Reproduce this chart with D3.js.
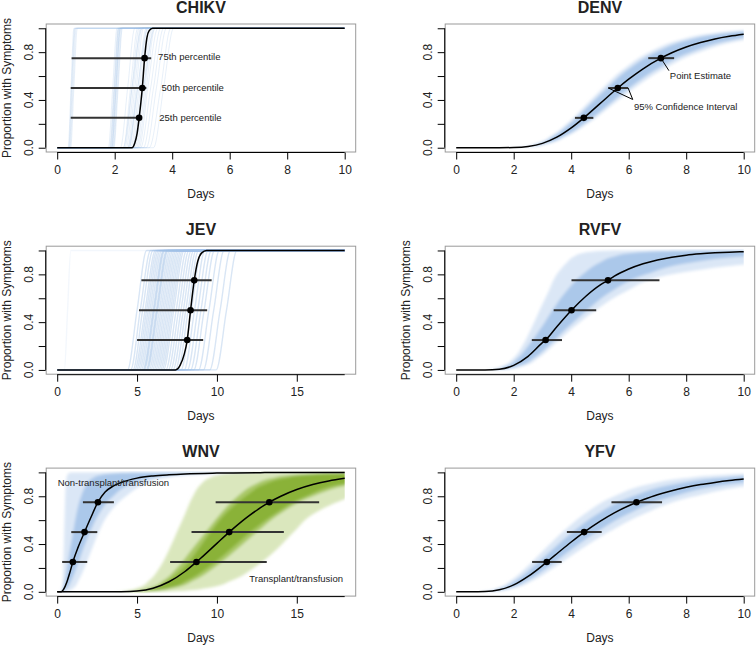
<!DOCTYPE html>
<html><head><meta charset="utf-8">
<script src="https://cdn.jsdelivr.net/npm/d3@7"></script>
<style>body{margin:0;background:#fff} svg{display:block} text{font-family:"Liberation Sans",Arial,Helvetica,sans-serif}</style>
</head><body><svg id="c" width="756" height="645"><defs><filter id="soft" x="-5%" y="-5%" width="110%" height="110%"><feGaussianBlur stdDeviation="1.6"/></filter></defs></svg>
<script>
// ---------------- DATA ----------------
const viruses = ["CHIKV","DENV","JEV","RVFV","WNV","YFV"];
const dayMax = {CHIKV:10, DENV:10, JEV:18, RVFV:10, WNV:18, YFV:10};
const dayTicks = {CHIKV:[0,2,4,6,8,10], DENV:[0,2,4,6,8,10], JEV:[0,5,10,15], RVFV:[0,2,4,6,8,10], WNV:[0,5,10,15], YFV:[0,2,4,6,8,10]};
const propTicks = [0,0.2,0.4,0.6,0.8,1.0];
const propLabels = ["0.0","","0.4","","0.8",""];
const percentiles = [0.25,0.5,0.75];

// point estimates [estimate, CI low, CI high] (days) for 25th, 50th, 75th percentiles
const est_CHIKV = [[2.85,0.47,2.93],[2.96,0.47,3.10],[3.04,0.50,3.27]];
const est_DENV  = [[4.44,4.13,4.77],[5.62,5.29,5.98],[7.12,6.68,7.58]];
const est_JEV   = [[8.14,5.00,9.14],[8.35,5.12,9.39],[8.58,5.27,9.67]];
const est_RVFV  = [[3.11,2.63,3.68],[4.01,3.39,4.87],[5.28,4.01,7.07]];
const est_WNV_nt= [[0.98,0.31,1.88],[1.71,0.88,2.51],[2.55,1.61,3.55]];
const est_WNV_t = [[8.72,7.07,13.12],[10.77,8.41,14.19],[13.28,9.92,16.40]];
const est_YFV   = [[3.15,2.64,3.67],[4.45,3.85,5.06],[6.27,5.40,7.16]];

// fitted curves [day, proportion]
const curve_CHIKV = [[0,0],[2.6,0],[2.7,0.04],[2.78,0.12],[2.85,0.25],[2.96,0.5],[3.04,0.75],[3.12,0.92],[3.2,0.98],[3.32,1],[10,1]];
const curve_DENV = [[0,0],[1,0],[1.5,0.0002],[2,0.0016],[2.5,0.0103],[3,0.0364],[3.5,0.088],[4,0.166],[4.44,0.25],[5,0.369],[5.62,0.5],[6,0.574],[6.5,0.661],[7.12,0.75],[7.5,0.795],[8,0.8435],[8.5,0.881],[9,0.911],[9.5,0.933],[10,0.95]];
const curve_JEV = [[0,0],[7.4,0],[7.7,0.04],[7.95,0.13],[8.14,0.25],[8.35,0.5],[8.58,0.75],[8.8,0.91],[9.05,0.98],[9.35,1],[18,1]];
const curve_RVFV = [[0,0],[0.5,0],[1,0.0002],[1.5,0.006],[2,0.038],[2.5,0.114],[3,0.228],[3.11,0.25],[3.5,0.362],[4.01,0.5],[4.5,0.615],[5,0.71],[5.28,0.75],[5.5,0.785],[6,0.845],[6.5,0.889],[7,0.921],[7.5,0.944],[8,0.961],[8.5,0.972],[9,0.98],[9.5,0.986],[10,0.99]];
const curve_WNV_nt = [[0,0],[0.25,0],[0.4,0.02],[0.6,0.08],[0.8,0.165],[0.98,0.25],[1.3,0.37],[1.71,0.5],[2.1,0.62],[2.55,0.75],[3,0.835],[3.5,0.885],[4,0.915],[5,0.952],[6,0.97],[7,0.98],[8,0.987],[10,0.994],[13,0.998],[18,1]];
const curve_WNV_t = [[0,0],[3,0],[4,0.001],[5,0.007],[6,0.03],[7,0.084],[8,0.17],[8.72,0.25],[9,0.283],[10,0.406],[10.77,0.5],[11,0.527],[12,0.636],[13,0.727],[13.28,0.75],[14,0.8],[15,0.856],[16,0.898],[17,0.928],[18,0.95]];
const curve_YFV = [[0,0],[0.5,0],[1,0.0017],[1.5,0.0165],[2,0.058],[2.5,0.129],[3,0.22],[3.15,0.25],[3.5,0.319],[4,0.417],[4.45,0.5],[5,0.59],[5.5,0.661],[6,0.721],[6.27,0.75],[6.5,0.771],[7,0.813],[7.5,0.847],[8,0.875],[8.5,0.898],[9,0.916],[9.5,0.9315],[10,0.944]];

// posterior sample curves (steep ones): [day leaving 0, day at 0.5, day reaching 1]
const samples_CHIKV = [
 [0.38,0.48,0.58],[0.40,0.50,0.61],[0.42,0.52,0.63],[0.44,0.55,0.66],[0.47,0.58,0.70],
 [1.78,1.93,2.08],[1.82,1.97,2.12],[1.84,1.99,2.14],[1.86,2.00,2.15],[1.88,2.03,2.18],[1.90,2.04,2.19],[1.90,2.05,2.20],[1.93,2.07,2.22],[1.95,2.10,2.25],[1.97,2.12,2.27],
 [2.20,2.45,2.70],[2.30,2.55,2.80],[2.30,2.60,2.95],[2.35,2.60,2.85],[2.40,2.65,2.90],[2.45,2.70,2.95],[2.45,2.80,3.15],[2.50,2.75,3.00],[2.50,2.80,3.10],[2.55,2.85,3.15],[2.60,2.90,3.20],[2.60,3.00,3.40],[2.65,2.95,3.25],[2.70,3.00,3.30],[2.75,3.05,3.35],[2.80,3.10,3.40],[2.85,3.15,3.50],[2.90,3.25,3.60],[3.00,3.35,3.70],[3.10,3.45,3.80],[3.20,3.60,3.95],[3.35,3.70,4.05]
];
const samples_JEV = [
 [0.45,0.65,0.85],
 [4.4,5.0,5.6],[4.6,5.2,5.85],[4.75,5.35,6.0],[4.85,5.5,6.15],[4.95,5.6,6.25],[5.05,5.7,6.35],[5.15,5.8,6.45],[5.25,5.9,6.55],[5.35,6.0,6.65],[5.4,6.05,6.7],[5.45,6.1,6.75],[5.55,6.2,6.85],[5.6,6.25,6.9],[5.65,6.3,6.95],[5.75,6.4,7.05],[5.85,6.5,7.15],[5.95,6.6,7.25],[6.05,6.7,7.35],[6.15,6.8,7.45],[6.25,6.9,7.55],[6.35,7.0,7.65],[6.45,7.1,7.75],[6.55,7.2,7.85],[6.65,7.3,7.95],[6.8,7.45,8.1],[6.95,7.6,8.25],[7.1,7.75,8.4],[7.25,7.9,8.55],[7.4,8.05,8.7],[7.55,8.2,8.85],[7.75,8.4,9.05],[7.95,8.6,9.25],[8.15,8.8,9.45],[8.35,9.0,9.65],[8.55,9.2,9.85],[8.85,9.5,10.15],[9.15,9.8,10.45],[9.55,10.2,10.85],[9.95,10.6,11.25]
];

// posterior sample envelopes: day range at each proportion level
const bandLevels = [0.001,0.01,0.03,0.1,0.2,0.35,0.5,0.65,0.8,0.9,0.95,0.98,0.995,0.999];
const bandOuterLo_DENV = [1.85,2.38,2.74,3.32,3.85,4.48,5.10,5.78,6.72,7.75,8.70,9.95,11.8,13.9];
const bandOuterHi_DENV = [2.02,2.63,3.10,3.88,4.56,5.38,6.20,7.15,8.45,9.95,11.4,13.3,16.1,19.5];
const bandInnerLo_DENV = [1.90,2.42,2.80,3.40,3.95,4.60,5.25,5.95,6.95,8.05,9.10,10.45,12.4,14.7];
const bandInnerHi_DENV = [1.96,2.58,3.04,3.78,4.44,5.24,6.02,6.92,8.15,9.55,10.9,12.6,15.2,18.3];
const bandOuterLo_RVFV = [1.05,1.35,1.60,2.00,2.30,2.62,2.90,3.20,3.50,3.85,4.10,4.45,5.00,5.60];
const bandOuterHi_RVFV = [1.50,1.95,2.30,2.85,3.35,4.05,4.85,5.85,7.50,10.8,13.5,17.0,22.0,27.0];
const bandInnerLo_RVFV = [1.10,1.45,1.72,2.15,2.50,2.95,3.35,3.80,4.40,5.00,5.50,6.20,7.30,8.50];
const bandInnerHi_RVFV = [1.35,1.80,2.15,2.70,3.20,3.85,4.55,5.35,6.60,8.20,10.0,12.5,16.0,20.0];
const bandOuterLo_YFV = [0.78,1.13,1.42,1.93,2.42,3.05,3.70,4.45,5.50,6.70,7.90,9.40,11.8,14.5];
const bandOuterHi_YFV = [1.05,1.56,1.98,2.70,3.38,4.30,5.30,6.50,8.30,10.6,13.0,16.5,22.0,29.0];
const bandInnerLo_YFV = [0.84,1.23,1.54,2.10,2.63,3.33,4.05,4.90,6.15,7.60,9.10,11.0,14.0,18.0];
const bandInnerHi_YFV = [0.98,1.46,1.83,2.50,3.14,3.98,4.88,5.95,7.55,9.50,11.5,14.3,19.0,25.0];
const bandOuterLo_WNV_nt = [0.20,0.26,0.30,0.35,0.38,0.41,0.44,0.47,0.50,0.54,0.58,0.64,0.75,0.90];
const bandOuterHi_WNV_nt = [0.45,0.75,1.00,1.35,1.70,2.15,2.60,3.20,4.30,5.50,6.60,8.30,11.0,15.0];
const bandInnerLo_WNV_nt = [0.22,0.30,0.37,0.50,0.62,0.80,1.00,1.20,1.50,1.85,2.20,2.80,3.80,5.00];
const bandInnerHi_WNV_nt = [0.30,0.45,0.60,0.90,1.20,1.60,2.05,2.60,3.50,4.60,5.80,7.50,10.5,14.0];
const bandOuterLo_WNV_t = [3.5,4.4,5.0,5.8,6.4,7.0,7.5,8.0,8.5,9.0,9.5,10.2,11.2,12.5];
const bandOuterHi_WNV_t = [6.5,8.0,9.3,11.0,12.3,13.7,14.8,16.0,18.5,21,24,28,34,40];
const bandInnerLo_WNV_t = [4.0,5.0,5.7,6.7,7.5,8.4,9.3,10.2,11.3,12.4,13.4,14.8,17,19];
const bandInnerHi_WNV_t = [5.0,6.3,7.2,8.6,9.8,11.2,12.5,13.9,16.0,18.5,21,24,29,34];
const bandCoreLo_WNV_t = [4.2,5.3,6.0,7.0,7.9,8.8,9.6,10.5,11.8,13.0,14.2,15.8,18,21];
const bandCoreHi_WNV_t = [4.9,6.0,6.9,8.2,9.4,10.8,12.1,13.6,15.6,17.8,20.3,23,28,33];

// annotations: [panel, text, day, proportion]
const notes = [
 ["CHIKV","75th percentile",3.51,0.763],
 ["CHIKV","50th percentile",3.63,0.506],
 ["CHIKV","25th percentile",3.55,0.255],
 ["DENV","Point Estimate",7.43,0.60],
 ["DENV","95% Confidence Interval",6.18,0.347],
 ["WNV","Non-transplant/transfusion",0.03,0.911],
 ["WNV","Transplant/transfusion",12.03,0.111]
];
// leader lines: [panel, fromDay, fromProp, toDay, toProp]
const leaders = [
 ["DENV",7.12,0.75,7.40,0.645],
 ["DENV",5.29,0.5,6.14,0.404],
 ["DENV",5.98,0.5,6.14,0.404]
];

// ---------------- DRAW ----------------
const svg = d3.select("#c");
const cols = [45.7, 444.7], rows = [23.5, 245.7, 467.6], W = 310.5, H = 129;
const layout = {CHIKV:[0,0], DENV:[1,0], JEV:[0,1], RVFV:[1,1], WNV:[0,2], YFV:[1,2]};
const showYLabel = {CHIKV:true, DENV:false, JEV:true, RVFV:true, WNV:true, YFV:false};
const BLUE_OUT = "#dbe7f6", BLUE_IN = "#abc8ea", BLUE_LINE = "#9fc0e6";
const GREEN_OUT = "#dae7bd", GREEN_IN = "#a9c866", GREEN_CORE = "#8ab237";

const panels = {
 CHIKV:{curves:[curve_CHIKV], est:[est_CHIKV], samples:samples_CHIKV},
 DENV:{curves:[curve_DENV], est:[est_DENV], bands:[[bandOuterLo_DENV,bandOuterHi_DENV,BLUE_OUT],[bandInnerLo_DENV,bandInnerHi_DENV,BLUE_IN]]},
 JEV:{curves:[curve_JEV], est:[est_JEV], samples:samples_JEV},
 RVFV:{curves:[curve_RVFV], est:[est_RVFV], bands:[[bandOuterLo_RVFV,bandOuterHi_RVFV,BLUE_OUT],[bandInnerLo_RVFV,bandInnerHi_RVFV,BLUE_IN]]},
 WNV:{curves:[curve_WNV_nt,curve_WNV_t], est:[est_WNV_nt,est_WNV_t], bands:[
   [bandOuterLo_WNV_nt,bandOuterHi_WNV_nt,BLUE_OUT],[bandInnerLo_WNV_nt,bandInnerHi_WNV_nt,BLUE_IN],
   [bandOuterLo_WNV_t,bandOuterHi_WNV_t,GREEN_OUT],[bandInnerLo_WNV_t,bandInnerHi_WNV_t,GREEN_IN],[bandCoreLo_WNV_t,bandCoreHi_WNV_t,GREEN_CORE]]},
 YFV:{curves:[curve_YFV], est:[est_YFV], bands:[[bandOuterLo_YFV,bandOuterHi_YFV,BLUE_OUT],[bandInnerLo_YFV,bandInnerHi_YFV,BLUE_IN]]}
};

viruses.forEach(name => {
  const [c, r] = layout[name];
  const x0 = cols[c], y0 = rows[r];
  const xmax = dayMax[name], pad = xmax * 0.04;
  const x = d3.scaleLinear().domain([-pad, xmax + pad]).range([x0, x0 + W]);
  const y = d3.scaleLinear().domain([-0.04, 1.04]).range([y0 + H, y0]);
  const P = panels[name];
  const g = svg.append("g");
  const clipId = "clip" + name;
  g.append("clipPath").attr("id", clipId).append("rect")
    .attr("x", x(0)).attr("y", y(1) - 1.5).attr("width", x(xmax) - x(0)).attr("height", y(0) - y(1) + 3);
  const layer = g.append("g").attr("clip-path", `url(#${clipId})`);
  const soft = layer.append("g").attr("filter", "url(#soft)");

  // envelopes
  (P.bands || []).forEach(([lo, hi, col]) => {
    const rowsB = bandLevels.map((p, i) => [p, lo[i], hi[i]]).reverse();
    const area = d3.area().curve(d3.curveMonotoneY)
      .y(d => y(d[0])).x0(d => x(d[1])).x1(d => x(d[2]));
    soft.append("path").attr("d", area(rowsB)).attr("fill", col).attr("stroke", "none");
  });
  // sample lines
  const lineGen = d3.line().curve(d3.curveMonotoneX).x(d => x(d[0])).y(d => y(d[1]));
  (P.samples || []).forEach(([a, m, b], i) => {
    const pts = [[0,0],[a,0],[m,0.5],[b,1],[xmax,1]];
    const op = name === "JEV" ? (i === 0 ? 0.12 : 0.4) : 0.24;
    layer.append("path").attr("d", lineGen(pts)).attr("fill", "none")
      .attr("stroke", BLUE_LINE).attr("stroke-opacity", op).attr("stroke-width", name === "JEV" ? 1.4 : 1);
  });
  // fitted curves
  P.curves.forEach(cv => {
    g.append("path").attr("d", lineGen(cv)).attr("fill", "none")
      .attr("stroke", "#000").attr("stroke-width", 1.5);
  });
  // CI bars and points
  P.est.forEach(es => {
    es.forEach((e, i) => {
      g.append("line").attr("x1", x(e[1])).attr("x2", x(e[2]))
        .attr("y1", y(percentiles[i])).attr("y2", y(percentiles[i]))
        .attr("stroke", "#333").attr("stroke-width", 2);
    });
    es.forEach((e, i) => {
      g.append("circle").attr("cx", x(e[0])).attr("cy", y(percentiles[i])).attr("r", 3.3).attr("fill", "#000");
    });
  });

  // box
  g.append("rect").attr("x", x0 + 0.5).attr("y", y0 + 0.5).attr("width", W - 1).attr("height", H - 1)
    .attr("fill", "none").attr("stroke", "#9a9a9a").attr("stroke-width", 1);

  // x axis
  const xa = g.append("g").attr("transform", `translate(0,${y0 + H})`)
    .call(d3.axisBottom(x).tickValues(dayTicks[name]).tickSize(7).tickSizeOuter(0).tickPadding(4));
  xa.select(".domain").remove();
  xa.append("line").attr("x1", x(0)).attr("x2", x(xmax)).attr("stroke", "#000");
  xa.selectAll(".tick line").attr("stroke", "#000");
  xa.selectAll(".tick text").attr("font-size", 12).attr("fill", "#222")
    .attr("font-family", '"Liberation Sans",Arial,sans-serif').attr("y", 13);
  // y axis
  const ya = g.append("g").attr("transform", `translate(${x0},0)`)
    .call(d3.axisLeft(y).tickValues(propTicks).tickSize(7).tickSizeOuter(0).tickFormat(""));
  ya.select(".domain").remove();
  ya.append("line").attr("y1", y(0)).attr("y2", y(1)).attr("stroke", "#000");
  ya.selectAll(".tick line").attr("stroke", "#000");
  propTicks.forEach((v, i) => {
    if (!propLabels[i]) return;
    g.append("text").attr("transform", `translate(${x0 - 17},${y(v)}) rotate(-90)`)
      .attr("text-anchor", "middle").attr("dy", "0.35em").attr("font-size", 12).attr("fill", "#222")
      .text(propLabels[i]);
  });
  // labels
  g.append("text").attr("x", x0 + W / 2).attr("y", y0 + H + 45).attr("text-anchor", "middle")
    .attr("font-size", 12).attr("fill", "#222").text("Days");
  if (showYLabel[name]) {
    g.append("text").attr("transform", `translate(${x0 - 35},${y0 + H / 2}) rotate(-90)`)
      .attr("text-anchor", "middle").attr("font-size", 12).attr("fill", "#222").text("Proportion with Symptoms");
  }
  g.append("text").attr("x", x0 + W / 2).attr("y", y0 - 11).attr("text-anchor", "middle")
    .attr("font-size", 16).attr("font-weight", "bold").attr("fill", "#222").text(name);

  // annotations
  notes.filter(n => n[0] === name).forEach(n => {
    g.append("text").attr("x", x(n[2])).attr("y", y(n[3])).attr("dy", "0.35em")
      .attr("font-size", 9.5).attr("fill", "#222").text(n[1]);
  });
  leaders.filter(l => l[0] === name).forEach(l => {
    g.append("line").attr("x1", x(l[1])).attr("y1", y(l[2])).attr("x2", x(l[3])).attr("y2", y(l[4]))
      .attr("stroke", "#000").attr("stroke-width", 1);
  });
});
</script></body></html>
